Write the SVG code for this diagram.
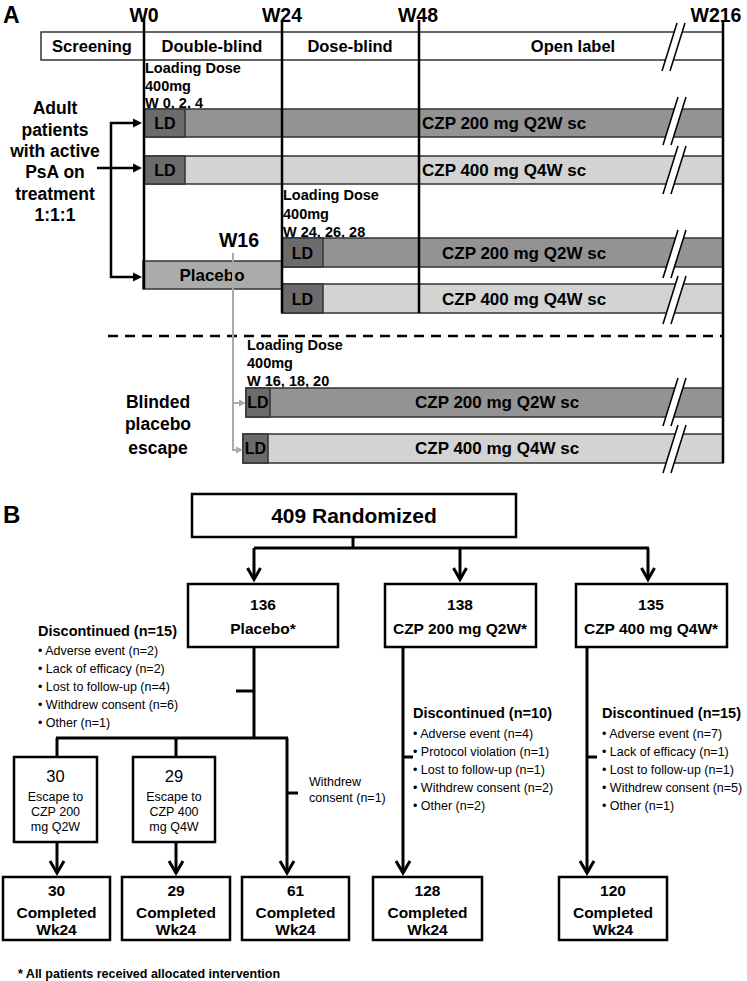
<svg xmlns="http://www.w3.org/2000/svg" xmlns:xlink="http://www.w3.org/1999/xlink" width="747" height="981" viewBox="0 0 747 981">
<defs>
<style>
text{font-family:"Liberation Sans",Arial,sans-serif;fill:#000}
.b{font-weight:bold}
.r{font-weight:normal}
.m{text-anchor:middle}
.wl{font-size:19.5px;font-weight:bold;text-anchor:middle}
.hd{font-size:16.5px;font-weight:bold;text-anchor:middle}
.ldt{font-size:14.5px;font-weight:bold}
.bt{font-size:17px;font-weight:bold}
.ldl{font-size:16px;font-weight:bold;text-anchor:middle}
.side{font-size:17.5px;font-weight:bold;text-anchor:middle}
.bar{stroke:#333;stroke-width:1.5}
.dk{fill:#939393}.ld{fill:#6b6b6b}.lt{fill:#d3d3d3}.pl{fill:#ababab}
.ln{stroke:#000;stroke-width:2.5;fill:none}
.gl{stroke:#aaa;stroke-width:2;fill:none}
.box{fill:#fff;stroke:#000;stroke-width:2.5}
.ar{stroke:#000;stroke-width:3;fill:none;stroke-linejoin:miter}
.s{font-size:12.5px}
.dh{font-size:14.5px;font-weight:bold}
.cb{font-size:15.5px;font-weight:bold;text-anchor:middle}
</style>
<g id="brk">
<polygon points="0,48 15,0 23,0 8,48" fill="#fff"/>
<line x1="0" y1="48" x2="15" y2="0" stroke="#000" stroke-width="1.6"/>
<line x1="8" y1="48" x2="23" y2="0" stroke="#000" stroke-width="1.6"/>
</g>
</defs>
<rect width="747" height="981" fill="#fff"/>

<!-- Panel A -->
<text class="b" x="3" y="23" font-size="23">A</text>
<g id="timeline">
<text class="wl" x="144" y="22">W0</text>
<text class="wl" x="282" y="22">W24</text>
<text class="wl" x="418" y="22">W48</text>
<text class="wl" x="716" y="22">W216</text>
</g>
<g id="header">
<rect x="41" y="32" width="682" height="28" fill="#fff" stroke="#333" stroke-width="1.5"/>
<text class="hd" x="92" y="52">Screening</text>
<text class="hd" x="212" y="52">Double-blind</text>
<text class="hd" x="350" y="52">Dose-blind</text>
<text class="hd" x="573" y="52">Open label</text>
<use xlink:href="#brk" x="662" y="23"/>
</g>

<g id="ld-w0">
<text class="ldt" x="145" y="73">Loading Dose</text>
<text class="ldt" x="145" y="91">400mg</text>
<text class="ldt" x="145" y="108">W 0, 2, 4</text>
</g>
<g id="row1">
<rect class="bar dk" x="144" y="109" width="579" height="28"/>
<rect class="bar ld" x="144" y="109" width="41" height="28"/>
<text class="ldl" x="165" y="129">LD</text>
<text class="bt" x="422" y="129">CZP 200 mg Q2W sc</text>
<use xlink:href="#brk" x="663" y="97"/>
</g>
<g id="row2">
<rect class="bar lt" x="144" y="156" width="579" height="28"/>
<rect class="bar ld" x="144" y="156" width="41" height="28"/>
<text class="ldl" x="165" y="176">LD</text>
<text class="bt" x="422" y="176">CZP 400 mg Q4W sc</text>
<use xlink:href="#brk" x="663" y="146"/>
</g>
<g id="adult">
<text class="side" x="55" y="114">Adult</text>
<text class="side" x="55" y="135.5">patients</text>
<text class="side" x="55" y="157">with active</text>
<text class="side" x="55" y="178">PsA on</text>
<text class="side" x="55" y="199.5">treatment</text>
<text class="side" x="55" y="221">1:1:1</text>
</g>
<g id="placebo-a">
<rect class="bar pl" x="143" y="261" width="139" height="28"/>
<text class="bt m" x="212" y="281" font-size="16">Placebo</text>
</g>
<text class="wl" x="239" y="247" font-size="19">W16</text>
<g id="ld-w24">
<text class="ldt" x="283" y="200">Loading Dose</text>
<text class="ldt" x="283" y="219">400mg</text>
<text class="ldt" x="283" y="237">W 24, 26, 28</text>
</g>
<g id="row3">
<rect class="bar dk" x="282" y="238" width="441" height="29"/>
<rect class="bar ld" x="282" y="238" width="41" height="29"/>
<text class="ldl" x="302.5" y="259">LD</text>
<text class="bt" x="442" y="259">CZP 200 mg Q2W sc</text>
<use xlink:href="#brk" x="663" y="230"/>
</g>
<g id="row4">
<rect class="bar lt" x="282" y="284" width="441" height="29"/>
<rect class="bar ld" x="282" y="284" width="41" height="29"/>
<text class="ldl" x="302.5" y="305">LD</text>
<text class="bt" x="442" y="305">CZP 400 mg Q4W sc</text>
<use xlink:href="#brk" x="663" y="276"/>
</g>
<g id="escape-text">
<text class="side" x="158" y="408" font-size="19">Blinded</text>
<text class="side" x="158" y="430" font-size="19">placebo</text>
<text class="side" x="158" y="454" font-size="19">escape</text>
</g>
<g id="ld-w16">
<text class="ldt" x="247" y="350">Loading Dose</text>
<text class="ldt" x="247" y="368">400mg</text>
<text class="ldt" x="247" y="386">W 16, 18, 20</text>
</g>
<g id="row5">
<rect class="bar dk" x="246" y="388" width="477" height="29"/>
<rect class="bar ld" x="246" y="388" width="24" height="29"/>
<text class="ldl" x="258" y="408">LD</text>
<text class="bt" x="415" y="408">CZP 200 mg Q2W sc</text>
<use xlink:href="#brk" x="663" y="378"/>
</g>
<g id="row6">
<rect class="bar lt" x="243" y="434" width="480" height="29"/>
<rect class="bar ld" x="243" y="434" width="25" height="29"/>
<text class="ldl" x="255.5" y="454">LD</text>
<text class="bt" x="415" y="454">CZP 400 mg Q4W sc</text>
<use xlink:href="#brk" x="663" y="425"/>
</g>

<g id="connectors-a">
<line class="ln" x1="144" y1="20" x2="144" y2="289"/>
<line class="ln" x1="282" y1="20" x2="282" y2="313"/>
<line class="ln" x1="419" y1="20" x2="419" y2="313"/>
<line class="ln" x1="723" y1="20" x2="723" y2="463"/>
<line x1="108" y1="336" x2="723" y2="336" stroke="#000" stroke-width="2.5" stroke-dasharray="10 7"/>
<polyline class="ln" points="134,123 111,123 111,277 134,277" stroke-width="2"/>
<line class="ln" x1="97" y1="168" x2="134" y2="168" stroke-width="2"/>
<polygon points="142,123 133,118.5 133,127.5" fill="#000"/>
<polygon points="142,168 133,163.5 133,172.5" fill="#000"/>
<polygon points="142,277 133,272.5 133,281.5" fill="#000"/>
<polyline class="gl" points="233,253 233,450 240,450"/>
<line class="gl" x1="233" y1="403" x2="240" y2="403"/>
<polygon points="246,403 239,399.5 239,406.5" fill="#aaa"/>
<polygon points="243,450 236,446.5 236,453.5" fill="#aaa"/>
</g>

<!-- Panel B -->
<text class="b" x="3" y="523" font-size="24">B</text>
<g id="randomized">
<rect class="box" x="192" y="494" width="324" height="43"/>
<text class="b m" x="354" y="523" font-size="21">409 Randomized</text>
</g>
<g id="placebo">
<rect class="box" x="188" y="584" width="150" height="63"/>
<text class="cb" x="263" y="610">136</text>
<text class="cb" x="263" y="634">Placebo*</text>
</g>
<g id="czp200">
<rect class="box" x="385" y="584" width="151" height="63"/>
<text class="cb" x="460" y="610">138</text>
<text class="cb" x="460" y="634" font-size="14.5">CZP 200 mg Q2W*</text>
</g>
<g id="czp400">
<rect class="box" x="576" y="584" width="151" height="63"/>
<text class="cb" x="651" y="610">135</text>
<text class="cb" x="651" y="634" font-size="14.5">CZP 400 mg Q4W*</text>
</g>
<g id="disc-placebo">
<text class="dh" x="38" y="636">Discontinued (n=15)</text>
<text class="r s" x="38" y="655">• Adverse event (n=2)</text>
<text class="r s" x="38" y="673">• Lack of efficacy (n=2)</text>
<text class="r s" x="38" y="691">• Lost to follow-up (n=4)</text>
<text class="r s" x="38" y="709">• Withdrew consent (n=6)</text>
<text class="r s" x="38" y="727">• Other (n=1)</text>
</g>
<g id="disc-200">
<text class="dh" x="413" y="718">Discontinued (n=10)</text>
<text class="r s" x="413" y="738">• Adverse event (n=4)</text>
<text class="r s" x="413" y="756">• Protocol violation (n=1)</text>
<text class="r s" x="413" y="774">• Lost to follow-up (n=1)</text>
<text class="r s" x="413" y="792">• Withdrew consent (n=2)</text>
<text class="r s" x="413" y="810">• Other (n=2)</text>
</g>
<g id="disc-400">
<text class="dh" x="602" y="718">Discontinued (n=15)</text>
<text class="r s" x="602" y="738">• Adverse event (n=7)</text>
<text class="r s" x="602" y="756">• Lack of efficacy (n=1)</text>
<text class="r s" x="602" y="774">• Lost to follow-up (n=1)</text>
<text class="r s" x="602" y="792">• Withdrew consent (n=5)</text>
<text class="r s" x="602" y="810">• Other (n=1)</text>
</g>
<g id="escape200">
<rect class="box" x="14" y="757" width="83" height="85"/>
<text class="r m" x="55.5" y="782" font-size="16.5">30</text>
<text class="r m s" x="55.5" y="801">Escape to</text>
<text class="r m s" x="55.5" y="816">CZP 200</text>
<text class="r m s" x="55.5" y="831">mg Q2W</text>
</g>
<g id="escape400">
<rect class="box" x="133" y="757" width="82" height="85"/>
<text class="r m" x="174" y="782" font-size="16.5">29</text>
<text class="r m s" x="174" y="801">Escape to</text>
<text class="r m s" x="174" y="816">CZP 400</text>
<text class="r m s" x="174" y="831">mg Q4W</text>
</g>
<g id="withdrew">
<text class="r s" x="309" y="786">Withdrew</text>
<text class="r s" x="309" y="802">consent (n=1)</text>
</g>
<g id="comp30">
<rect class="box" x="3" y="877" width="107" height="63"/>
<text class="cb" x="56.5" y="896" font-size="16">30</text>
<text class="cb" x="56.5" y="917.5">Completed</text>
<text class="cb" x="56.5" y="935">Wk24</text>
</g>
<g id="comp29">
<rect class="box" x="122" y="877" width="108" height="63"/>
<text class="cb" x="176" y="896" font-size="16">29</text>
<text class="cb" x="176" y="917.5">Completed</text>
<text class="cb" x="176" y="935">Wk24</text>
</g>
<g id="comp61">
<rect class="box" x="242" y="877" width="107" height="63"/>
<text class="cb" x="295.5" y="896" font-size="16">61</text>
<text class="cb" x="295.5" y="917.5">Completed</text>
<text class="cb" x="295.5" y="935">Wk24</text>
</g>
<g id="comp128">
<rect class="box" x="373" y="877" width="109" height="63"/>
<text class="cb" x="427.5" y="896" font-size="16">128</text>
<text class="cb" x="427.5" y="917.5">Completed</text>
<text class="cb" x="427.5" y="935">Wk24</text>
</g>
<g id="comp120">
<rect class="box" x="559" y="877" width="108" height="63"/>
<text class="cb" x="613" y="896" font-size="16">120</text>
<text class="cb" x="613" y="917.5">Completed</text>
<text class="cb" x="613" y="935">Wk24</text>
</g>
<text class="b" x="18" y="978" font-size="12.5">* All patients received allocated intervention</text>

<g id="connectors-b">
<line class="ar" x1="353" y1="537" x2="353" y2="548"/>
<line class="ar" x1="254" y1="548" x2="649" y2="548"/>
<line class="ar" x1="254" y1="548" x2="254" y2="579"/>
<line class="ar" x1="460" y1="548" x2="460" y2="579"/>
<line class="ar" x1="648" y1="548" x2="648" y2="579"/>
<polyline class="ar" points="247.5,568 254,579.5 260.5,568"/>
<polyline class="ar" points="453.5,568 460,579.5 466.5,568"/>
<polyline class="ar" points="641.5,568 648,579.5 654.5,568"/>
<line class="ar" x1="254" y1="647" x2="254" y2="738"/>
<line class="ar" x1="236" y1="691" x2="254" y2="691"/>
<line class="ar" x1="56" y1="738" x2="288" y2="738"/>
<line class="ar" x1="57" y1="738" x2="57" y2="757"/>
<line class="ar" x1="176" y1="738" x2="176" y2="757"/>
<line class="ar" x1="287" y1="738" x2="287" y2="872"/>
<line class="ar" x1="287" y1="793" x2="298" y2="793"/>
<line class="ar" x1="57" y1="842" x2="57" y2="872"/>
<line class="ar" x1="176" y1="842" x2="176" y2="872"/>
<line class="ar" x1="403" y1="647" x2="403" y2="872"/>
<line class="ar" x1="403" y1="757" x2="413" y2="757"/>
<line class="ar" x1="587" y1="647" x2="587" y2="872"/>
<line class="ar" x1="587" y1="757" x2="597" y2="757"/>
<polyline class="ar" points="50,861 57,873 64,861"/>
<polyline class="ar" points="169,861 176,873 183,861"/>
<polyline class="ar" points="280,861 287,873 294,861"/>
<polyline class="ar" points="396,861 403,873 410,861"/>
<polyline class="ar" points="580,861 587,873 594,861"/>
</g>
</svg>
